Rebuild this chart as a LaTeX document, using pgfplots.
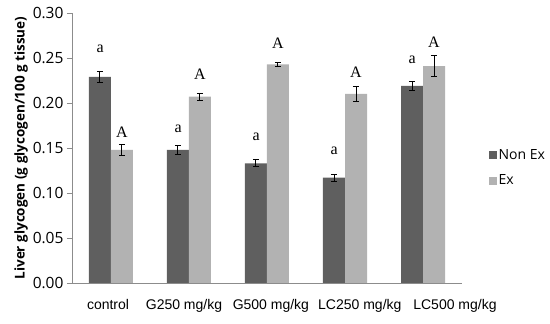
\documentclass[border=0pt]{standalone}
\usepackage{pgfplots}
\pgfplotsset{compat=1.18}
\usepackage{fontspec}
\setmainfont{Open Sans}
\newfontfamily\xfont{Liberation Sans}
\newfontfamily\letterfont{Liberation Serif}
\definecolor{nonex}{HTML}{5F5F5F}
\definecolor{ex}{HTML}{B2B2B2}
\definecolor{axisgray}{HTML}{8C8C8C}
\begin{document}
\begin{tikzpicture}[x=1pt,y=1pt]
\begin{axis}[
  scale only axis,
  width=390pt, height=270pt,
  ybar=0pt, bar width=22pt,
  xmin=-0.5, xmax=4.5,
  ymin=0, ymax=0.30,
  ytick={0,0.05,...,0.30},
  yticklabel style={font=\fontsize{15.5}{17}\selectfont, /pgf/number format/fixed, /pgf/number format/fixed zerofill, /pgf/number format/precision=2, /pgf/number format/assume math mode=true},
  xtick={-0.038,0.936,2.05,3.19,4.41},
  xticklabels={control,G250 mg/kg,G500 mg/kg,LC250 mg/kg,LC500 mg/kg},
  xticklabel style={font=\xfont\fontsize{14}{16}\selectfont, yshift=-8pt},
  major x tick style={draw=none},
  extra x ticks={-0.5,0.5,1.5,2.5,3.5,4.5},
  extra x tick labels={},
  extra x tick style={major tick length=6pt, tick style={draw=axisgray}},
  tick align=outside,
  major tick length=5pt,
  y tick style={draw=axisgray},
  axis x line*=bottom, axis y line*=left,
  axis line style={draw=axisgray, line width=0.8pt},
  ylabel={\bfseries Liver glycogen (g glycogen/100 g tissue)},
  ylabel style={font=\fontsize{13.5}{15}\selectfont, yshift=-2pt},
  legend style={draw=none, at={(1.06,0.426)}, anchor=west, font=\fontsize{14}{16}\selectfont, row sep=10pt, cells={anchor=west}},
  legend image code/.code={\fill[#1] (0pt,-4pt) rectangle (8pt,4pt);},
  error bars/y dir=both, error bars/y explicit,
  error bars/error mark options={rotate=90, mark size=3pt, line width=1pt, black},
  error bars/error bar style={line width=1pt, black},
]
\addplot[fill=nonex, draw=none] coordinates {
  (0,0.229) +- (0,0.006)
  (1,0.148) +- (0,0.005)
  (2,0.133) +- (0,0.004)
  (3,0.117) +- (0,0.004)
  (4,0.219) +- (0,0.005)
};
\addplot[fill=ex, draw=none] coordinates {
  (0,0.148) +- (0,0.006)
  (1,0.207) +- (0,0.004)
  (2,0.243) +- (0,0.002)
  (3,0.210) +- (0,0.008)
  (4,0.241) +- (0,0.012)
};
\legend{Non Ex, Ex}
\begin{scope}[every node/.style={font=\letterfont\fontsize{16}{18}\selectfont}]
\node at (axis cs:-0.14,0.260) {a};
\node at (axis cs:0.86,0.171) {a};
\node at (axis cs:1.86,0.162) {a};
\node at (axis cs:2.86,0.147) {a};
\node at (axis cs:3.86,0.248) {a};
\node at (axis cs:0.14,0.168) {A};
\node at (axis cs:1.14,0.232) {A};
\node at (axis cs:2.14,0.266) {A};
\node at (axis cs:3.14,0.234) {A};
\node at (axis cs:4.14,0.268) {A};
\end{scope}
\end{axis}
\path[use as bounding box] (current axis.south west) ++(-72pt,-41pt) rectangle ++(550pt,324pt);
\end{tikzpicture}
\end{document}
